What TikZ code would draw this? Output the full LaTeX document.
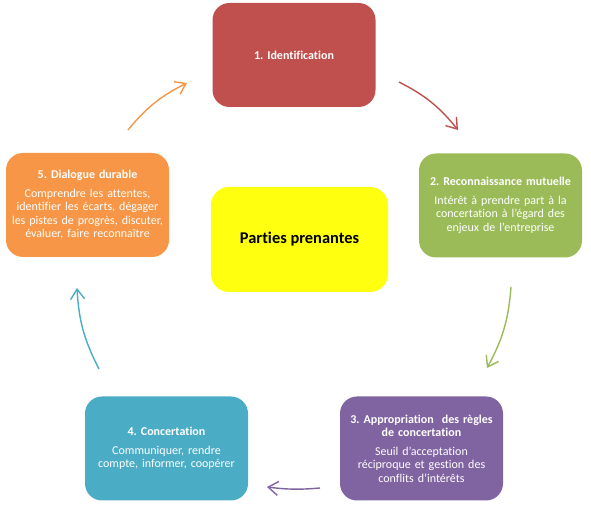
\documentclass[tikz,border=0pt]{standalone}
\usepackage{fontspec}
\setmainfont{Carlito}[Ligatures=NoCommon]
\usepackage{tikz}
\usetikzlibrary{arrows.meta,positioning}

\definecolor{stepred}{HTML}{C0504D}
\definecolor{stepgreen}{HTML}{9BBB59}
\definecolor{steppurple}{HTML}{8064A2}
\definecolor{stepblue}{HTML}{4BACC6}
\definecolor{steporange}{HTML}{F79646}
\definecolor{hubyellow}{HTML}{FFFF10}

\frenchspacing
\begin{document}
\begin{tikzpicture}[
      x=1pt, y=1pt,
      font=\fontsize{12}{13.5}\selectfont,
      stage/.style={
          rectangle, rounded corners=17pt,
          fill=#1, text=white,
          align=center,
          text width=153pt,      % box is 163pt wide with inner sep
          inner sep=5pt,
          minimum height=104pt
        },
      hub/.style={
          rectangle, rounded corners=18pt,
          fill=hubyellow,
          align=center,
          minimum width=177pt,
          minimum height=105pt,
          font=\fontsize{16.4}{19}\selectfont\bfseries
        },
      cycle/.style={draw=#1, line width=1.4pt,
          -{Straight Barb[length=10pt,width=14pt,line width=1.4pt]}},
    ]
    \useasboundingbox (0,0) rectangle (591,510);

    \node[hub] (hub) at (299.5,270.5) {Parties prenantes};

    \node[stage=stepred] (ident) at (294,455) {\textbf{1. Identification}};
    \node[stage=stepgreen] (recon) at (500.5,304.5)
      {\textbf{2. Reconnaissance mutuelle}\\[5pt]
       Intérêt à prendre part à la\\concertation à l'égard des\\enjeux de l'entreprise};
    \node[stage=steppurple] (approp) at (421.5,61.5)
      {\textbf{3. Appropriation\ \ des règles}\\\textbf{de concertation}\\[5pt]
       Seuil d'acceptation\\réciproque et gestion des\\conflits d'intérêts};
    \node[stage=stepblue] (concert) at (166.5,61.5)
      {\textbf{4. Concertation}\\[5pt]
       Communiquer, rendre\\compte, informer, coopérer};
    \node[stage=steporange] (dialog) at (87.5,305)
      {\textbf{5. Dialogue durable}\\[5pt]
       Comprendre les attentes,\\identifier les écarts, dégager\\les pistes de progrès, discuter,\\évaluer, faire reconnaître};

    % arrow ends around the cycle
    \coordinate (a1) at (399,428);
    \coordinate (b1) at (458,380);
    \coordinate (a2) at (511,223);
    \coordinate (b2) at (487,142);
    \coordinate (a3) at (320,22);
    \coordinate (b3) at (267,23);
    \coordinate (a4) at (99,141);
    \coordinate (b4) at (77,222);
    \coordinate (a5) at (128,380);
    \coordinate (b5) at (187,427);

    \draw[cycle=stepred] (a1) to[bend left=12] (b1);
    \draw[cycle=stepgreen] (a2) to[bend left=12] (b2);
    \draw[cycle=steppurple] (a3) to[bend left=6] (b3);
    \draw[cycle=stepblue] (a4) to[bend left=12] (b4);
    \draw[cycle=steporange] (a5) to[bend left=12] (b5);
  \end{tikzpicture}
\end{document}
